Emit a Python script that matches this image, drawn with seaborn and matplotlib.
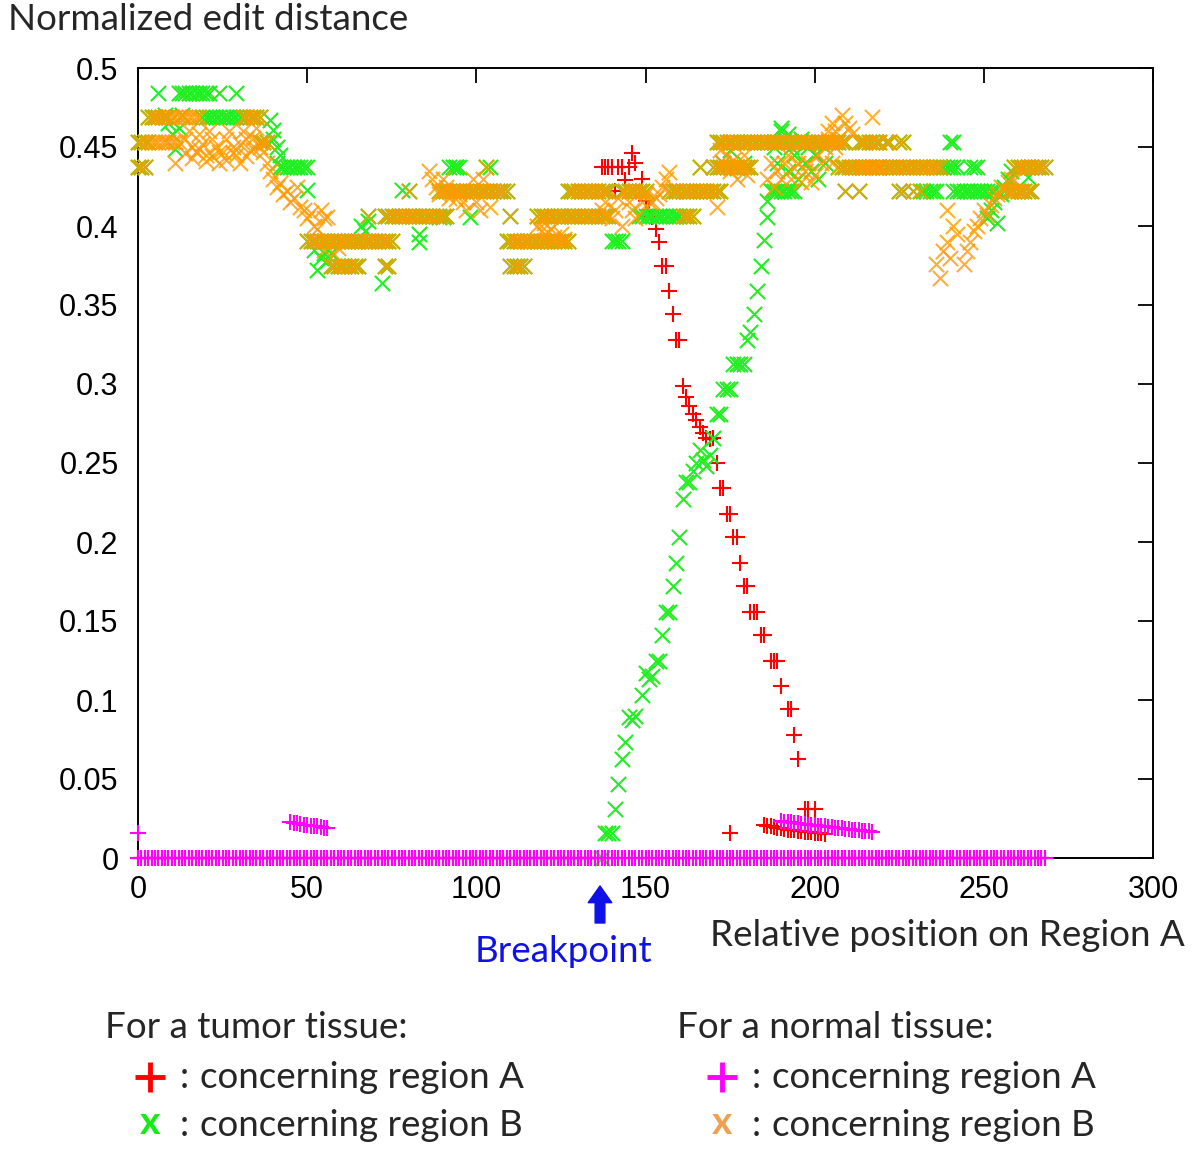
import numpy as np
import pandas as pd
import seaborn as sns
import matplotlib.pyplot as plt
from matplotlib.lines import Line2D

# ---- data ----
# levels are mostly multiples of 1/64
L = {k: k / 64 for k in range(20, 33)}

# horizontal runs (first pos, last pos, value)
tumor_a_runs = [(0, 136, 0.0), (206, 268, 0.0)]
normal_a_runs = [(0, 268, 0.0)]
tumor_b_runs = [(12, 21, L[31]), (19, 30, L[30]), (42, 50, L[28]), (92, 95, L[28]),
                (148, 160, L[26]), (187, 194, L[27]), (237, 242, L[28]), (246, 248, L[28]),
                (232, 236, L[27]), (241, 253, L[27]), (140, 143, L[25]), (138, 140, 1 / 64)]
normal_b_runs = [(4, 12, L[29]), (10, 18, L[30])]
shared_b_runs = [(0, 2, L[28]), (0, 3, L[29]), (3, 9, L[30]), (31, 36, L[30]), (36, 38, L[29]),
                 (50, 75, L[25]), (57, 65, L[24]), (73, 74, L[24]), (73, 91, L[26]),
                 (89, 109, L[27]), (109, 127, L[25]), (110, 114, L[24]), (118, 139, L[26]),
                 (127, 139, L[27]), (143, 150, L[27]), (161, 164, L[26]), (157, 172, L[27]),
                 (170, 181, L[28]), (171, 209, L[29]), (207, 219, L[28]), (213, 219, L[29]),
                 (213, 237, L[28]), (259, 268, L[28]), (257, 263, L[27])]

# scattered points
tumor_a_x = [137, 138, 139, 140, 142, 143, 145, 147, 146, 149, 141, 144, 150, 151, 152, 153, 154,
             155, 156, 157, 158, 159, 160, 161, 162, 163, 164, 165, 166, 167, 168, 169, 170,
             171, 172, 173, 174, 175, 176, 177, 178, 179, 180, 181, 182, 183, 184, 185, 187,
             188, 189, 190, 192, 193, 194, 195, 197, 198, 200, 175,
             185, 186, 187, 188, 189, 190, 191, 192, 193, 194, 195, 196, 197, 198, 199, 200,
             201, 202, 203]
tumor_a_y = [0.4375, 0.4375, 0.4375, 0.4375, 0.4375, 0.4375, 0.4375, 0.440, 0.446, 0.430, 0.422,
             0.429, 0.416, 0.410, 0.406, 0.398, 0.390, 0.375, 0.375, 0.359, 0.344, 0.328, 0.328,
             0.299, 0.292, 0.286, 0.281, 0.277, 0.273, 0.269, 0.266, 0.265, 0.266, 0.250, 0.234,
             0.234, 0.218, 0.218, 0.203, 0.203, 0.187, 0.172, 0.172, 0.156, 0.156, 0.156, 0.141,
             0.141, 0.125, 0.125, 0.125, 0.109, 0.094, 0.094, 0.078, 0.0625, 0.031, 0.031, 0.031,
             0.0156,
             0.021, 0.0205, 0.020, 0.0195, 0.019, 0.0188, 0.0184, 0.018, 0.0178, 0.0175, 0.0172,
             0.017, 0.0167, 0.0165, 0.0163, 0.016, 0.0158, 0.0156, 0.0155]

normal_a_x = [0, 45, 46, 47, 48, 49, 50, 51, 52, 53, 54, 55, 56,
              190, 191, 192, 193, 194, 195, 196, 197, 198, 199, 200, 201, 202, 203, 204, 205,
              206, 207, 208, 209, 210, 211, 212, 213, 214, 215, 216, 217]
normal_a_y = [0.0156, 0.0225, 0.0222, 0.022, 0.0215, 0.0212, 0.021, 0.0205, 0.0202, 0.020,
              0.0196, 0.0192, 0.019,
              0.0235, 0.023, 0.0228, 0.0225, 0.0222, 0.022, 0.0218, 0.0215, 0.0212, 0.021,
              0.0208, 0.0205, 0.0202, 0.020, 0.0198, 0.0195, 0.0192, 0.019, 0.0188, 0.0185,
              0.0182, 0.018, 0.0178, 0.0175, 0.0172, 0.017, 0.0168, 0.0165]

tumor_b_x = [6, 24, 29, 8, 9, 10, 11, 12, 13, 39, 40, 40, 41, 42, 41, 50, 52, 53, 54, 55, 56, 57,
             72, 66, 67, 68, 78, 83, 83, 94, 104, 89, 90, 98,
             137, 141, 142, 143, 144, 145, 146, 147, 149, 150, 151, 152, 153, 154, 155, 156, 157,
             158, 159, 160, 161, 162, 163, 164, 165, 166, 167, 168, 169, 170, 171, 172, 173,
             174, 175, 176, 177, 178, 179, 180, 181, 182, 183, 184, 185, 186, 186, 187,
             173, 175, 177, 179, 188, 189, 190, 191, 192, 193, 194, 195, 196, 197, 198, 199,
             200, 201, 202, 203, 190, 192, 240, 241, 251, 252, 253, 254, 255, 256, 257, 258, 263]
tumor_b_y = [0.484, 0.484, 0.484, 0.470, 0.465, 0.458, 0.449, 0.462, 0.470, 0.467, 0.461, 0.455,
             0.450, 0.445, 0.440, 0.423, 0.385, 0.372, 0.380, 0.383, 0.378, 0.383,
             0.364, 0.400, 0.397, 0.403, 0.423, 0.395, 0.390, 0.4375, 0.4375, 0.406, 0.406, 0.406,
             0.0, 0.031, 0.047, 0.0625, 0.0734, 0.089, 0.0875, 0.090, 0.103, 0.117, 0.113, 0.115,
             0.125, 0.125, 0.141, 0.156, 0.156, 0.172, 0.187, 0.203, 0.227, 0.238, 0.238, 0.245,
             0.250, 0.258, 0.252, 0.248, 0.255, 0.266, 0.281, 0.281, 0.297, 0.297, 0.297, 0.3125,
             0.3125, 0.3125, 0.3125, 0.328, 0.333, 0.344, 0.359, 0.375, 0.391, 0.406, 0.416,
             0.422,
             0.440, 0.448, 0.437, 0.440, 0.450, 0.440, 0.460, 0.455, 0.435, 0.450, 0.445, 0.430,
             0.455, 0.440, 0.450, 0.435, 0.445, 0.430, 0.452, 0.440, 0.462, 0.458, 0.453, 0.453,
             0.405, 0.410, 0.415, 0.402, 0.420, 0.425, 0.430, 0.435, 0.431]

normal_b_x = [11, 14, 15, 16, 17, 18, 19, 20, 21, 22, 23, 24, 25, 26, 27, 28, 29, 30, 31, 32, 33,
              34, 35, 36, 14, 16, 18, 20, 22, 24, 26, 28, 30, 32, 34,
              37, 38, 39, 40, 41, 42, 43, 44, 45, 46, 47, 48, 49, 50, 51, 52, 53, 54, 55, 56,
              55, 58, 59, 86, 87, 88, 89, 90, 91, 92, 93, 94, 95, 96, 97, 99, 100, 101, 102, 104,
              118, 119, 120, 121, 122, 123, 125, 126, 137, 138, 140, 141, 142, 143,
              145, 146, 147, 149, 150, 151, 152, 153, 154, 155, 156, 157,
              171, 172, 173, 174, 175, 176, 177, 178, 179, 180,
              186, 187, 188, 189, 190, 191, 192, 193, 194, 195, 196, 197, 198, 199, 200, 201,
              202, 203, 204, 205, 206, 207, 208, 209, 210, 211, 205, 206, 204, 217,
              236, 237, 238, 239, 239, 240, 241, 242, 244, 245, 246, 247, 248, 249, 250, 251,
              252, 253, 254, 255, 256, 257, 258, 259]
normal_b_y = [0.440, 0.455, 0.46, 0.45, 0.447, 0.458, 0.452, 0.445, 0.46, 0.455, 0.45, 0.44,
              0.447, 0.455, 0.46, 0.45, 0.445, 0.452, 0.46, 0.455, 0.448, 0.456, 0.462, 0.45,
              0.446, 0.443, 0.449, 0.441, 0.444, 0.447, 0.442, 0.446, 0.44, 0.444, 0.449,
              0.447, 0.440, 0.435, 0.430, 0.425, 0.427, 0.420, 0.422, 0.415, 0.418, 0.425, 0.412,
              0.410, 0.405, 0.408, 0.400, 0.398, 0.410, 0.405, 0.406,
              0.385, 0.382, 0.386, 0.435, 0.430, 0.425, 0.420, 0.430, 0.425, 0.418, 0.422, 0.417,
              0.420, 0.415, 0.410, 0.430, 0.415, 0.410, 0.430, 0.412,
              0.400, 0.397, 0.402, 0.396, 0.398, 0.393, 0.395, 0.392,
              0.410, 0.415, 0.405, 0.410, 0.418, 0.400,
              0.415, 0.410, 0.405, 0.415, 0.420, 0.415, 0.415, 0.418, 0.420, 0.425, 0.430, 0.434,
              0.412, 0.448, 0.440, 0.445, 0.435, 0.442, 0.430, 0.438, 0.445, 0.432,
              0.430, 0.440, 0.425, 0.435, 0.430, 0.440, 0.445, 0.430, 0.437, 0.440, 0.428, 0.435,
              0.440, 0.428, 0.432, 0.445, 0.440, 0.450, 0.460, 0.465, 0.460, 0.455, 0.470, 0.465,
              0.462, 0.458, 0.440, 0.450, 0.455, 0.469,
              0.376, 0.367, 0.384, 0.390, 0.410, 0.380, 0.400, 0.395, 0.376, 0.384, 0.390, 0.397,
              0.400, 0.405, 0.410, 0.407, 0.413, 0.418, 0.420, 0.425, 0.423, 0.428, 0.430, 0.429]

shared_b_x = [68, 80, 103, 110, 166, 209, 213, 221, 222, 225, 226, 225, 226, 229, 231, 264]
shared_b_y = [L[26], L[27], L[28], L[26], L[28], L[27], L[27], L[29], L[29], L[29], L[29],
              L[27], L[27], L[27], L[27], L[27]]

red = '#ff0000'
green = '#22ee22'
magenta = '#ff00ff'
orange = '#ff9a00'


def expand(runs, xs, ys):
    px, py = list(xs), list(ys)
    for a, b, v in runs:
        for p in range(a, b + 1):
            px.append(p)
            py.append(v)
    return pd.DataFrame({'pos': px, 'dist': py})


df_ta = expand(tumor_a_runs, tumor_a_x, tumor_a_y)
df_tb = expand(tumor_b_runs + shared_b_runs, tumor_b_x + shared_b_x, tumor_b_y + shared_b_y)
df_na = expand(normal_a_runs, normal_a_x, normal_a_y)
df_nb = expand(normal_b_runs + shared_b_runs, normal_b_x + shared_b_x, normal_b_y + shared_b_y)

sns.set_style('white')
plt.rcParams['font.family'] = ['Liberation Sans', 'DejaVu Sans']

fig = plt.figure(figsize=(12, 11.52), dpi=100)
ax = fig.add_axes([138 / 1200, 1 - 858 / 1152, (1153 - 138) / 1200, (858 - 68) / 1152])

kw = dict(ax=ax, s=120, linewidth=1.5, clip_on=False, legend=False)
sns.scatterplot(data=df_ta, x='pos', y='dist', marker='+', color=red, zorder=3, **kw)
sns.scatterplot(data=df_tb, x='pos', y='dist', marker='x', color=green, zorder=4, **kw)
sns.scatterplot(data=df_na, x='pos', y='dist', marker='+', color=magenta, zorder=5, **kw)
sns.scatterplot(data=df_nb, x='pos', y='dist', marker='x', color=orange, alpha=0.8, zorder=6, **kw)

ax.set_xlim(0, 300)
ax.set_ylim(0, 0.5)
ax.set_xticks(np.arange(0, 301, 50))
ax.set_yticks(np.arange(0, 0.501, 0.05))
ax.set_yticklabels(['0', '0.05', '0.1', '0.15', '0.2', '0.25', '0.3', '0.35', '0.4', '0.45', '0.5'])
ax.set_xlabel('')
ax.set_ylabel('')
ax.tick_params(direction='in', length=11, width=1.3, top=True, right=True, labelsize=22,
               colors='black')
ax.tick_params(axis='x', pad=12)
ax.tick_params(axis='y', pad=14)
for sp in ax.spines.values():
    sp.set_visible(True)
    sp.set_color('black')
    sp.set_linewidth(1.4)
    sp.set_zorder(2)

tfont = ['Lato', 'DejaVu Sans']
fs = 26.5
fig.text(8 / 1200, 1 - 20 / 1152, 'Normalized edit distance', fontsize=fs, family=tfont,
         va='center', ha='left')
fig.text(710 / 1200, 1 - 935 / 1152, 'Relative position on Region A', fontsize=fs, family=tfont,
         va='center', ha='left')
fig.text(475 / 1200, 1 - 952 / 1152, 'Breakpoint', fontsize=fs, family=tfont, color='#1010e8',
         va='center', ha='left')
ax.annotate('', xy=(600, 1152 - 886), xycoords='figure pixels',
            xytext=(600, 1152 - 923), textcoords='figure pixels',
            arrowprops=dict(width=7, headwidth=17, headlength=12, color='#1010e8'))

# legend block
fig.text(105 / 1200, 1 - 1028 / 1152, 'For a tumor tissue:', fontsize=fs, family=tfont, va='center')
fig.text(677 / 1200, 1 - 1028 / 1152, 'For a normal tissue:', fontsize=fs, family=tfont, va='center')
for lx, c in [(150, red), (722, magenta)]:
    fig.add_artist(Line2D([lx / 1200], [1 - 1077 / 1152], marker='+', markersize=21,
                          mew=3.5, color=c, transform=fig.transFigure))
for lx, c in [(150, '#11ee11'), (722, '#f0a050')]:
    fig.text(lx / 1200, 1 - 1122 / 1152, 'x', fontsize=28, family=tfont, color=c,
             fontweight='bold', va='center', ha='center')
for cx, tx in [(180, 200), (752, 772)]:
    for yy, lab in [(1077, 'concerning region A'), (1125, 'concerning region B')]:
        fig.text(cx / 1200, 1 - yy / 1152, ':', fontsize=fs, family=tfont, va='center')
        fig.text(tx / 1200, 1 - yy / 1152, lab, fontsize=fs, family=tfont, va='center')

fig.savefig('out.png', dpi=100)
